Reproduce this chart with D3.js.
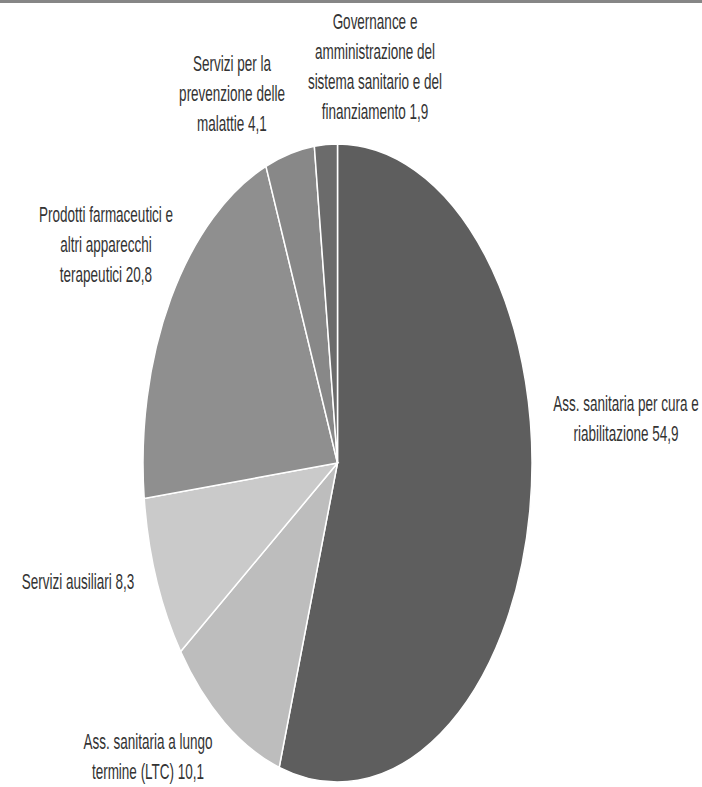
<!DOCTYPE html>
<html>
<head>
<meta charset="utf-8">
<script src="https://cdn.jsdelivr.net/npm/d3@7"></script>
<style>
  html, body { margin: 0; padding: 0; background: #ffffff; }
  svg { display: block; }
</style>
</head>
<body>
<svg id="chart" width="702" height="787"></svg>
<script>
// Spending by function (% of total)
const categories = [
  ["Ass. sanitaria per cura e", "riabilitazione"],
  ["Ass. sanitaria a lungo", "termine (LTC)"],
  ["Servizi ausiliari"],
  ["Prodotti farmaceutici e", "altri apparecchi", "terapeutici"],
  ["Servizi per la", "prevenzione delle", "malattie"],
  ["Governance e", "amministrazione del", "sistema sanitario e del", "finanziamento"]
];
const values = [54.9, 10.1, 8.3, 20.8, 4.1, 1.9];
const colors = ["#5e5e5e", "#bdbdbd", "#cacaca", "#8f8f8f", "#888888", "#6b6b6b"];

// Where each label block sits (centre of its first line)
const labelPos = [
  [626, 403], [148, 741], [78, 581], [106, 214], [232, 63], [375, 21]
];

const svg = d3.select("#chart");
const W = 702, H = 787;

// thin grey rule along the top edge
svg.append("rect").attr("x", 0).attr("y", 0).attr("width", W).attr("height", 3).attr("fill", "#868686");

const cx = 337.5, cy = 463, rx = 194.5, ry = 319;

const pie = d3.pie().sort(null).value(d => d)(values);
const arc = d3.arc().innerRadius(0).outerRadius(rx);

const g = svg.append("g").attr("transform", `translate(${cx},${cy}) scale(1,${ry / rx})`);
g.selectAll("path")
  .data(pie)
  .join("path")
  .attr("d", arc)
  .attr("fill", (d, i) => colors[i])
  .attr("stroke", "#ffffff")
  .attr("stroke-width", 1.5)
  .attr("vector-effect", "non-scaling-stroke");

// labels
const fmt = v => d3.format(".1f")(v).replace(".", ",");
const sy = 1.6, fontSize = 13.5, lineGap = 30;

categories.forEach((lines, i) => {
  const txt = lines.slice();
  txt[txt.length - 1] = txt[txt.length - 1] + " " + fmt(values[i]);
  const [x, y] = labelPos[i];
  const lg = svg.append("g").attr("transform", `translate(${x},${y}) scale(1,${sy})`);
  lg.selectAll("text")
    .data(txt)
    .join("text")
    .attr("x", 0)
    .attr("y", (d, j) => (j * lineGap) / sy)
    .attr("dy", "0.36em")
    .attr("text-anchor", "middle")
    .attr("font-family", "'Liberation Sans', Arial, sans-serif")
    .attr("font-size", fontSize)
    .attr("fill", "#333333")
    .text(d => d);
});
</script>
</body>
</html>
